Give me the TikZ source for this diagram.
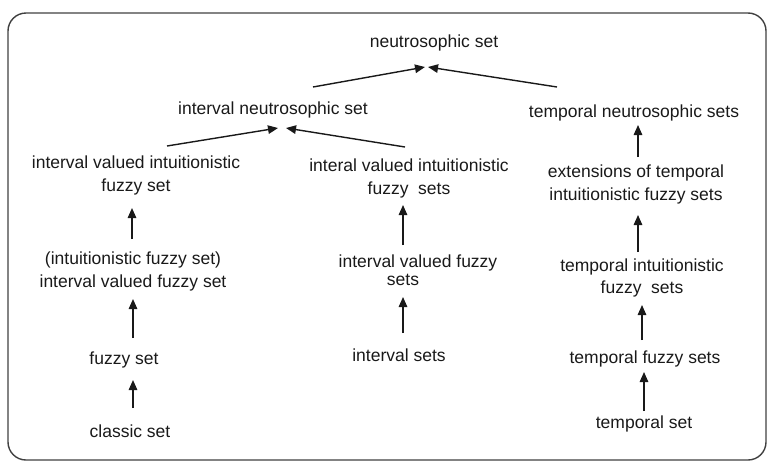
\documentclass[tikz,border=0pt]{standalone}
\usepackage{fontspec}
\setmainfont{Liberation Sans}
\usetikzlibrary{arrows.meta, calc}

\begin{document}
\begin{tikzpicture}[x=1pt, y=-1pt,
        setname/.style={align=center, inner sep=0pt, text=black!90,
            font=\fontsize{17.5}{23}\selectfont},
        up/.style={-{Triangle[length=10pt,width=8.5pt]}, line width=1.4pt, black!90}]
        \useasboundingbox (0,0) rectangle (770,464);
        \draw[rounded corners=18pt, line width=1.4pt, black!75] (8,13) rectangle (766,460);

        \node (ns) [setname] at (434,43) {neutrosophic set};
        \node (ins) [setname] at (273,110) {interval neutrosophic set};
        \node (tns) [setname] at (634,113) {temporal neutrosophic sets};

        \node (ivifs) [setname] at (136,175) {interval valued intuitionistic\\fuzzy set};
        \node (iivfs) [setname] at (409,178.5) {interal valued intuitionistic\\fuzzy\ \ sets};
        \node (etifs) [setname] at (636,184) {extensions of temporal\\intuitionistic fuzzy sets};

        \node (ivfs) [setname] at (133,271) {(intuitionistic fuzzy set)\\interval valued fuzzy set};
        \node (ivs) [setname, font=\fontsize{17.5}{18.5}\selectfont] at (418,270) {interval valued fuzzy\\sets\hspace*{30pt}};
        \node (tifs) [setname, font=\fontsize{17.5}{22}\selectfont] at (642,278) {temporal intuitionistic\\fuzzy\ \ sets};

        \node (fs) [setname] at (124,360) {fuzzy set};
        \node (is) [setname] at (399,355) {interval sets};
        \node (tfs) [setname] at (645,359) {temporal fuzzy sets};

        \node (cs) [setname] at (130,431) {classic set};
        \node (ts) [setname] at (644,424) {temporal set};

        \path[up]
        ($(cs)+(3,-23)$) edge ($(fs)+(9,20)$)
        ($(fs)+(9,-22)$) edge ($(ivfs)+(0,28)$)
        ($(ivfs)+(-1,-32)$) edge ($(ivifs)+(-4,33)$)
        ($(is)+(4,-22)$) edge ($(ivs)+(-15,27)$)
        ($(ivs)+(-15,-25)$) edge ($(iivfs)+(-6,26.5)$)
        ($(ts)+(0,-13)$) edge ($(tfs)+(-1,13)$)
        ($(tfs)+(-3,-19)$) edge ($(tifs)+(0,27)$)
        ($(tifs)+(-4,-26)$) edge ($(etifs)+(2,31)$)
        ($(etifs)+(2,-27)$) edge ($(tns)+(4,12)$)
        ($(ivifs)+(31,-29)$) edge ($(ins)+(5,18)$)
        ($(iivfs)+(-4,-31.5)$) edge ($(ins)+(13,18)$)
        ($(ins)+(40,-23)$) edge ($(ns)+(-9,24)$)
        ($(tns)+(-77,-26)$) edge ($(ns)+(-6,24)$);
\end{tikzpicture}
\end{document}
